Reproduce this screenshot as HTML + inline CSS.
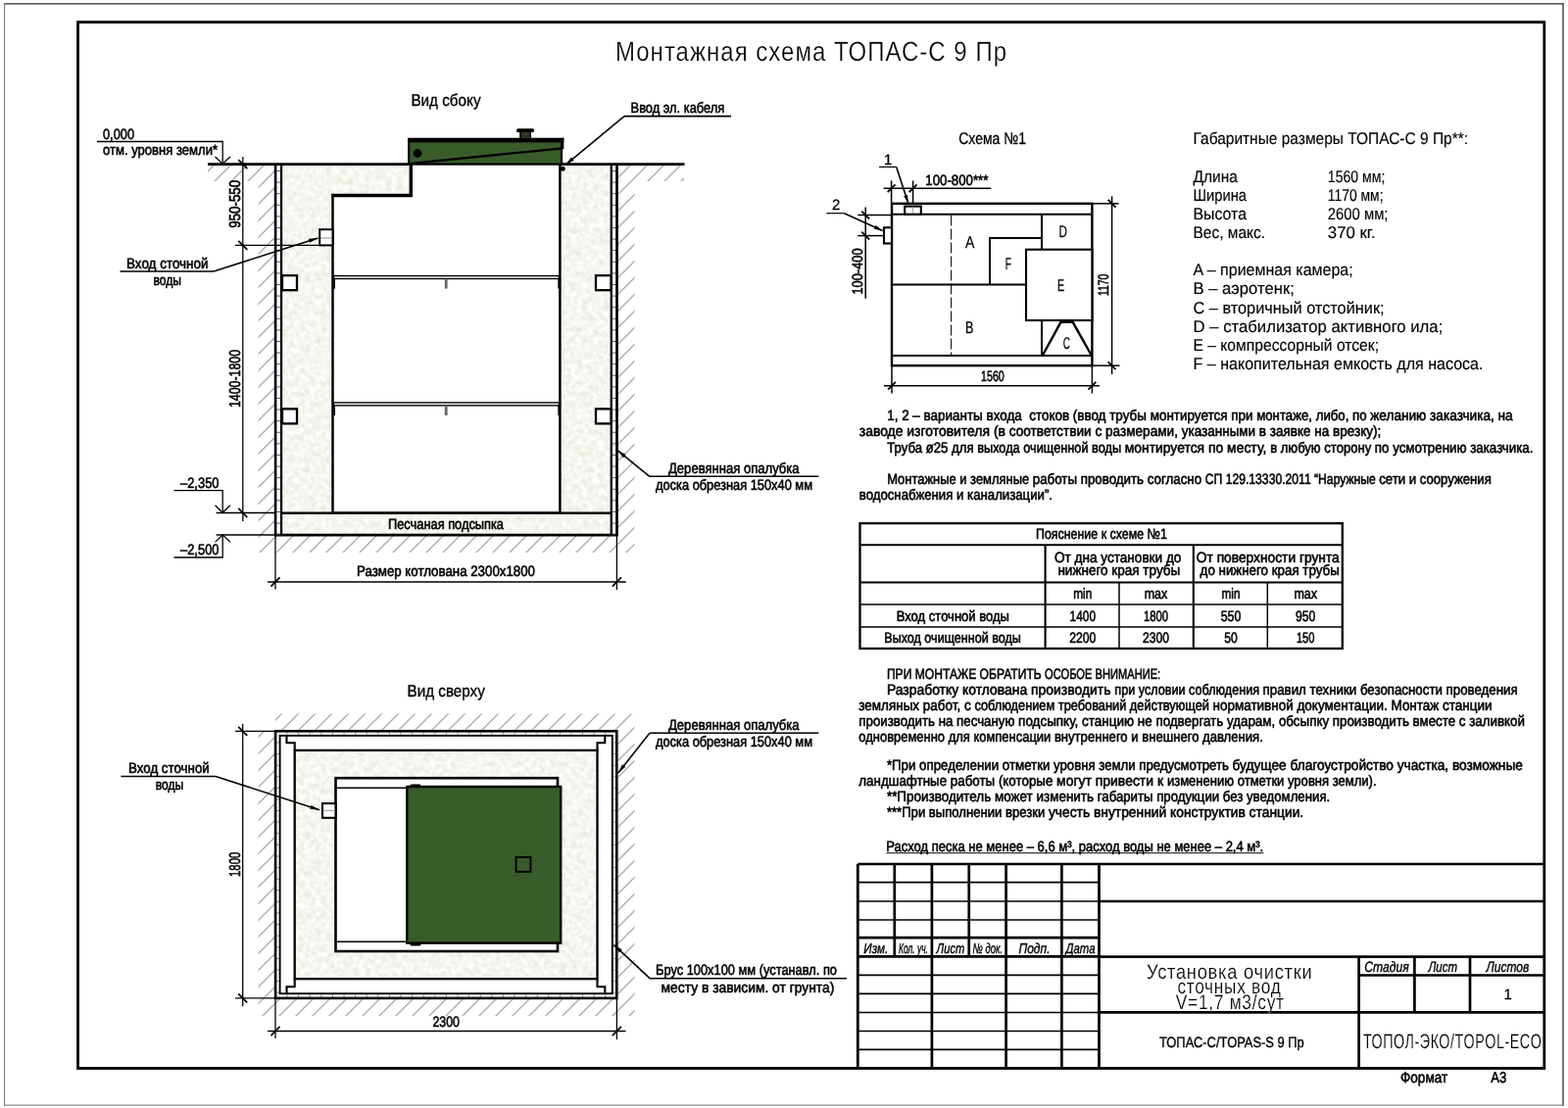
<!DOCTYPE html>
<html lang="ru">
<head>
<meta charset="utf-8">
<title>Монтажная схема ТОПАС-С 9 Пр</title>
<style>
html,body{margin:0;padding:0;background:#fff;}
body{width:1600px;height:1131px;overflow:hidden;}
svg{display:block;}
svg text{font-family:"Liberation Sans", "DejaVu Sans", sans-serif;fill:#000;paint-order:stroke fill;stroke-linejoin:round;}
svg{opacity:0.9999;}
</style>
</head>
<body>
<svg width="1600" height="1131" viewBox="0 0 1600 1131" shape-rendering="auto" text-rendering="geometricPrecision">
<defs><filter id="sand" x="0" y="0" width="100%" height="100%" color-interpolation-filters="sRGB">
<feTurbulence type="fractalNoise" baseFrequency="0.18" numOctaves="2" seed="7" result="n"/>
<feColorMatrix in="n" type="matrix" values="0.15 0 0 0 0.885  0.15 0 0 0 0.888  0.18 0 0 0 0.845  0 0 0 0 1" result="c"/>
<feComposite in="c" in2="SourceGraphic" operator="in"/>
</filter></defs>
<rect x="0.00" y="0.00" width="1600.00" height="1131.00" fill="#fff" stroke="none" />
<line x1="4.00" y1="3.80" x2="1595.60" y2="3.80" stroke="#2a2a2a" stroke-width="1.3" />
<line x1="1595.00" y1="3.20" x2="1595.00" y2="1128.80" stroke="#2a2a2a" stroke-width="1.3" />
<line x1="4.50" y1="3.20" x2="4.50" y2="1128.80" stroke="#777" stroke-width="1" />
<line x1="4.00" y1="1128.20" x2="1595.60" y2="1128.20" stroke="#888" stroke-width="1.2" />
<rect x="79.50" y="22.60" width="1496.30" height="1067.90" fill="none" stroke="#000" stroke-width="2.8" />
<clipPath id="h1">
<rect x="212" y="168.5" width="69" height="16.5"/>
<rect x="263.5" y="168.5" width="17.5" height="395.5"/>
<rect x="263.5" y="547" width="384.0" height="17"/>
<rect x="630.5" y="168" width="17.0" height="396"/>
<rect x="630.5" y="168" width="67.5" height="17"/>
</clipPath>
<g clip-path="url(#h1)" stroke="#aeaeae" stroke-width="1.4">
<line x1="207.0" y1="163.0" x2="-199.0" y2="569.0"/>
<line x1="224.0" y1="163.0" x2="-182.0" y2="569.0"/>
<line x1="241.0" y1="163.0" x2="-165.0" y2="569.0"/>
<line x1="258.0" y1="163.0" x2="-148.0" y2="569.0"/>
<line x1="275.0" y1="163.0" x2="-131.0" y2="569.0"/>
<line x1="292.0" y1="163.0" x2="-114.0" y2="569.0"/>
<line x1="309.0" y1="163.0" x2="-97.0" y2="569.0"/>
<line x1="326.0" y1="163.0" x2="-80.0" y2="569.0"/>
<line x1="343.0" y1="163.0" x2="-63.0" y2="569.0"/>
<line x1="360.0" y1="163.0" x2="-46.0" y2="569.0"/>
<line x1="377.0" y1="163.0" x2="-29.0" y2="569.0"/>
<line x1="394.0" y1="163.0" x2="-12.0" y2="569.0"/>
<line x1="411.0" y1="163.0" x2="5.0" y2="569.0"/>
<line x1="428.0" y1="163.0" x2="22.0" y2="569.0"/>
<line x1="445.0" y1="163.0" x2="39.0" y2="569.0"/>
<line x1="462.0" y1="163.0" x2="56.0" y2="569.0"/>
<line x1="479.0" y1="163.0" x2="73.0" y2="569.0"/>
<line x1="496.0" y1="163.0" x2="90.0" y2="569.0"/>
<line x1="513.0" y1="163.0" x2="107.0" y2="569.0"/>
<line x1="530.0" y1="163.0" x2="124.0" y2="569.0"/>
<line x1="547.0" y1="163.0" x2="141.0" y2="569.0"/>
<line x1="564.0" y1="163.0" x2="158.0" y2="569.0"/>
<line x1="581.0" y1="163.0" x2="175.0" y2="569.0"/>
<line x1="598.0" y1="163.0" x2="192.0" y2="569.0"/>
<line x1="615.0" y1="163.0" x2="209.0" y2="569.0"/>
<line x1="632.0" y1="163.0" x2="226.0" y2="569.0"/>
<line x1="649.0" y1="163.0" x2="243.0" y2="569.0"/>
<line x1="666.0" y1="163.0" x2="260.0" y2="569.0"/>
<line x1="683.0" y1="163.0" x2="277.0" y2="569.0"/>
<line x1="700.0" y1="163.0" x2="294.0" y2="569.0"/>
<line x1="717.0" y1="163.0" x2="311.0" y2="569.0"/>
<line x1="734.0" y1="163.0" x2="328.0" y2="569.0"/>
<line x1="751.0" y1="163.0" x2="345.0" y2="569.0"/>
<line x1="768.0" y1="163.0" x2="362.0" y2="569.0"/>
<line x1="785.0" y1="163.0" x2="379.0" y2="569.0"/>
<line x1="802.0" y1="163.0" x2="396.0" y2="569.0"/>
<line x1="819.0" y1="163.0" x2="413.0" y2="569.0"/>
<line x1="836.0" y1="163.0" x2="430.0" y2="569.0"/>
<line x1="853.0" y1="163.0" x2="447.0" y2="569.0"/>
<line x1="870.0" y1="163.0" x2="464.0" y2="569.0"/>
<line x1="887.0" y1="163.0" x2="481.0" y2="569.0"/>
<line x1="904.0" y1="163.0" x2="498.0" y2="569.0"/>
<line x1="921.0" y1="163.0" x2="515.0" y2="569.0"/>
<line x1="938.0" y1="163.0" x2="532.0" y2="569.0"/>
<line x1="955.0" y1="163.0" x2="549.0" y2="569.0"/>
<line x1="972.0" y1="163.0" x2="566.0" y2="569.0"/>
<line x1="989.0" y1="163.0" x2="583.0" y2="569.0"/>
<line x1="1006.0" y1="163.0" x2="600.0" y2="569.0"/>
<line x1="1023.0" y1="163.0" x2="617.0" y2="569.0"/>
<line x1="1040.0" y1="163.0" x2="634.0" y2="569.0"/>
<line x1="1057.0" y1="163.0" x2="651.0" y2="569.0"/>
<line x1="1074.0" y1="163.0" x2="668.0" y2="569.0"/>
<line x1="1091.0" y1="163.0" x2="685.0" y2="569.0"/>
<line x1="1108.0" y1="163.0" x2="702.0" y2="569.0"/>
</g>
<rect x="287.00" y="168.50" width="337.00" height="377.00" fill="#f2f3e8" stroke="none" filter="url(#sand)"/>
<line x1="212.00" y1="167.60" x2="698.50" y2="167.60" stroke="#000" stroke-width="2.7" />
<path d="M419.30 167.60 L419.30 199.50 L339.50 199.50 L339.50 523.70 L571.40 523.70 L571.40 167.60" fill="#fff" stroke="#000" stroke-width="2.5" stroke-linejoin="miter" />
<path d="M419.30 167.60 L419.30 199.50 L338.30 199.50" fill="none" stroke="#000" stroke-width="3.4" stroke-linejoin="miter" />
<line x1="287.00" y1="523.70" x2="624.00" y2="523.70" stroke="#000" stroke-width="2.6" />
<line x1="280.20" y1="546.10" x2="630.80" y2="546.10" stroke="#000" stroke-width="2.6" />
<line x1="281.10" y1="174.50" x2="287.05" y2="174.50" stroke="#555" stroke-width="0.9" />
<line x1="281.10" y1="186.10" x2="287.05" y2="186.10" stroke="#555" stroke-width="0.9" />
<line x1="281.10" y1="197.70" x2="287.05" y2="197.70" stroke="#555" stroke-width="0.9" />
<line x1="281.10" y1="209.30" x2="287.05" y2="209.30" stroke="#555" stroke-width="0.9" />
<line x1="281.10" y1="220.90" x2="287.05" y2="220.90" stroke="#555" stroke-width="0.9" />
<line x1="281.10" y1="232.50" x2="287.05" y2="232.50" stroke="#555" stroke-width="0.9" />
<line x1="281.10" y1="244.10" x2="287.05" y2="244.10" stroke="#555" stroke-width="0.9" />
<line x1="281.10" y1="255.70" x2="287.05" y2="255.70" stroke="#555" stroke-width="0.9" />
<line x1="281.10" y1="267.30" x2="287.05" y2="267.30" stroke="#555" stroke-width="0.9" />
<line x1="281.10" y1="278.90" x2="287.05" y2="278.90" stroke="#555" stroke-width="0.9" />
<line x1="281.10" y1="290.50" x2="287.05" y2="290.50" stroke="#555" stroke-width="0.9" />
<line x1="281.10" y1="302.10" x2="287.05" y2="302.10" stroke="#555" stroke-width="0.9" />
<line x1="281.10" y1="313.70" x2="287.05" y2="313.70" stroke="#555" stroke-width="0.9" />
<line x1="281.10" y1="325.30" x2="287.05" y2="325.30" stroke="#555" stroke-width="0.9" />
<line x1="281.10" y1="336.90" x2="287.05" y2="336.90" stroke="#555" stroke-width="0.9" />
<line x1="281.10" y1="348.50" x2="287.05" y2="348.50" stroke="#555" stroke-width="0.9" />
<line x1="281.10" y1="360.10" x2="287.05" y2="360.10" stroke="#555" stroke-width="0.9" />
<line x1="281.10" y1="371.70" x2="287.05" y2="371.70" stroke="#555" stroke-width="0.9" />
<line x1="281.10" y1="383.30" x2="287.05" y2="383.30" stroke="#555" stroke-width="0.9" />
<line x1="281.10" y1="394.90" x2="287.05" y2="394.90" stroke="#555" stroke-width="0.9" />
<line x1="281.10" y1="406.50" x2="287.05" y2="406.50" stroke="#555" stroke-width="0.9" />
<line x1="281.10" y1="418.10" x2="287.05" y2="418.10" stroke="#555" stroke-width="0.9" />
<line x1="281.10" y1="429.70" x2="287.05" y2="429.70" stroke="#555" stroke-width="0.9" />
<line x1="281.10" y1="441.30" x2="287.05" y2="441.30" stroke="#555" stroke-width="0.9" />
<line x1="281.10" y1="452.90" x2="287.05" y2="452.90" stroke="#555" stroke-width="0.9" />
<line x1="281.10" y1="464.50" x2="287.05" y2="464.50" stroke="#555" stroke-width="0.9" />
<line x1="281.10" y1="476.10" x2="287.05" y2="476.10" stroke="#555" stroke-width="0.9" />
<line x1="281.10" y1="487.70" x2="287.05" y2="487.70" stroke="#555" stroke-width="0.9" />
<line x1="281.10" y1="499.30" x2="287.05" y2="499.30" stroke="#555" stroke-width="0.9" />
<line x1="281.10" y1="510.90" x2="287.05" y2="510.90" stroke="#555" stroke-width="0.9" />
<line x1="281.10" y1="522.50" x2="287.05" y2="522.50" stroke="#555" stroke-width="0.9" />
<line x1="281.10" y1="534.10" x2="287.05" y2="534.10" stroke="#555" stroke-width="0.9" />
<line x1="281.10" y1="545.70" x2="287.05" y2="545.70" stroke="#555" stroke-width="0.9" />
<line x1="281.10" y1="167.50" x2="281.10" y2="546.00" stroke="#000" stroke-width="2.6" />
<line x1="287.05" y1="167.50" x2="287.05" y2="546.00" stroke="#000" stroke-width="2.3" />
<line x1="623.80" y1="174.50" x2="629.50" y2="174.50" stroke="#555" stroke-width="0.9" />
<line x1="623.80" y1="186.10" x2="629.50" y2="186.10" stroke="#555" stroke-width="0.9" />
<line x1="623.80" y1="197.70" x2="629.50" y2="197.70" stroke="#555" stroke-width="0.9" />
<line x1="623.80" y1="209.30" x2="629.50" y2="209.30" stroke="#555" stroke-width="0.9" />
<line x1="623.80" y1="220.90" x2="629.50" y2="220.90" stroke="#555" stroke-width="0.9" />
<line x1="623.80" y1="232.50" x2="629.50" y2="232.50" stroke="#555" stroke-width="0.9" />
<line x1="623.80" y1="244.10" x2="629.50" y2="244.10" stroke="#555" stroke-width="0.9" />
<line x1="623.80" y1="255.70" x2="629.50" y2="255.70" stroke="#555" stroke-width="0.9" />
<line x1="623.80" y1="267.30" x2="629.50" y2="267.30" stroke="#555" stroke-width="0.9" />
<line x1="623.80" y1="278.90" x2="629.50" y2="278.90" stroke="#555" stroke-width="0.9" />
<line x1="623.80" y1="290.50" x2="629.50" y2="290.50" stroke="#555" stroke-width="0.9" />
<line x1="623.80" y1="302.10" x2="629.50" y2="302.10" stroke="#555" stroke-width="0.9" />
<line x1="623.80" y1="313.70" x2="629.50" y2="313.70" stroke="#555" stroke-width="0.9" />
<line x1="623.80" y1="325.30" x2="629.50" y2="325.30" stroke="#555" stroke-width="0.9" />
<line x1="623.80" y1="336.90" x2="629.50" y2="336.90" stroke="#555" stroke-width="0.9" />
<line x1="623.80" y1="348.50" x2="629.50" y2="348.50" stroke="#555" stroke-width="0.9" />
<line x1="623.80" y1="360.10" x2="629.50" y2="360.10" stroke="#555" stroke-width="0.9" />
<line x1="623.80" y1="371.70" x2="629.50" y2="371.70" stroke="#555" stroke-width="0.9" />
<line x1="623.80" y1="383.30" x2="629.50" y2="383.30" stroke="#555" stroke-width="0.9" />
<line x1="623.80" y1="394.90" x2="629.50" y2="394.90" stroke="#555" stroke-width="0.9" />
<line x1="623.80" y1="406.50" x2="629.50" y2="406.50" stroke="#555" stroke-width="0.9" />
<line x1="623.80" y1="418.10" x2="629.50" y2="418.10" stroke="#555" stroke-width="0.9" />
<line x1="623.80" y1="429.70" x2="629.50" y2="429.70" stroke="#555" stroke-width="0.9" />
<line x1="623.80" y1="441.30" x2="629.50" y2="441.30" stroke="#555" stroke-width="0.9" />
<line x1="623.80" y1="452.90" x2="629.50" y2="452.90" stroke="#555" stroke-width="0.9" />
<line x1="623.80" y1="464.50" x2="629.50" y2="464.50" stroke="#555" stroke-width="0.9" />
<line x1="623.80" y1="476.10" x2="629.50" y2="476.10" stroke="#555" stroke-width="0.9" />
<line x1="623.80" y1="487.70" x2="629.50" y2="487.70" stroke="#555" stroke-width="0.9" />
<line x1="623.80" y1="499.30" x2="629.50" y2="499.30" stroke="#555" stroke-width="0.9" />
<line x1="623.80" y1="510.90" x2="629.50" y2="510.90" stroke="#555" stroke-width="0.9" />
<line x1="623.80" y1="522.50" x2="629.50" y2="522.50" stroke="#555" stroke-width="0.9" />
<line x1="623.80" y1="534.10" x2="629.50" y2="534.10" stroke="#555" stroke-width="0.9" />
<line x1="623.80" y1="545.70" x2="629.50" y2="545.70" stroke="#555" stroke-width="0.9" />
<line x1="623.80" y1="167.50" x2="623.80" y2="546.00" stroke="#000" stroke-width="2.3" />
<line x1="629.50" y1="167.50" x2="629.50" y2="546.00" stroke="#000" stroke-width="2.7" />
<rect x="340.50" y="281.60" width="229.90" height="2.90" fill="#fff" stroke="#000" stroke-width="1.4" />
<rect x="340.30" y="284.60" width="1.70" height="10.00" fill="#000" stroke="none" />
<rect x="569.30" y="284.60" width="1.70" height="10.00" fill="#000" stroke="none" />
<rect x="453.80" y="284.60" width="2.80" height="10.00" fill="#666" stroke="none" />
<rect x="340.50" y="411.00" width="229.90" height="2.90" fill="#fff" stroke="#000" stroke-width="1.4" />
<rect x="340.30" y="414.00" width="1.70" height="10.00" fill="#000" stroke="none" />
<rect x="569.30" y="414.00" width="1.70" height="10.00" fill="#000" stroke="none" />
<rect x="453.80" y="414.00" width="2.80" height="10.00" fill="#666" stroke="none" />
<rect x="288.00" y="281.20" width="15.00" height="15.00" fill="#fff" stroke="#000" stroke-width="2.3" />
<rect x="608.00" y="281.20" width="15.50" height="15.00" fill="#fff" stroke="#000" stroke-width="2.3" />
<rect x="288.00" y="417.40" width="15.00" height="15.00" fill="#fff" stroke="#000" stroke-width="2.3" />
<rect x="608.00" y="417.40" width="15.50" height="15.00" fill="#fff" stroke="#000" stroke-width="2.3" />
<rect x="326.20" y="234.20" width="13.30" height="16.20" fill="#fff" stroke="#000" stroke-width="2" />
<line x1="327.00" y1="243.00" x2="339.00" y2="243.00" stroke="#777" stroke-width="0.8" />
<rect x="417.20" y="142.00" width="155.80" height="25.60" fill="#375c2a" stroke="#000" stroke-width="2.2" />
<rect x="416.20" y="140.80" width="159.10" height="4.60" fill="#000" stroke="none" />
<rect x="572.50" y="140.80" width="2.80" height="11.40" fill="#000" stroke="none" />
<line x1="419.00" y1="166.80" x2="572.00" y2="151.60" stroke="#000" stroke-width="2.3" />
<circle cx="426" cy="156.5" r="4.4" fill="#000"/>
<rect x="530.50" y="134.00" width="11.30" height="7.00" fill="#2a3a26" stroke="none" />
<rect x="527" y="131.3" width="18" height="3.6" rx="1.5" fill="#000"/>
<line x1="531.00" y1="134.00" x2="531.00" y2="141.00" stroke="#000" stroke-width="1.4" />
<line x1="541.30" y1="134.00" x2="541.30" y2="141.00" stroke="#000" stroke-width="1.4" />
<circle cx="574.2" cy="172.3" r="2.5" fill="#000"/>
<line x1="247.80" y1="160.00" x2="247.80" y2="532.00" stroke="#000" stroke-width="1.3" />
<line x1="243.28" y1="163.08" x2="252.32" y2="172.12" stroke="#000" stroke-width="1.8" />
<line x1="243.28" y1="245.78" x2="252.32" y2="254.82" stroke="#000" stroke-width="1.8" />
<line x1="243.28" y1="518.98" x2="252.32" y2="528.02" stroke="#000" stroke-width="1.8" />
<line x1="240.00" y1="250.30" x2="325.50" y2="250.30" stroke="#000" stroke-width="1.3" />
<line x1="220.60" y1="523.50" x2="281.00" y2="523.50" stroke="#000" stroke-width="1.3" />
<line x1="220.60" y1="546.00" x2="281.00" y2="546.00" stroke="#000" stroke-width="1.3" />
<line x1="281.00" y1="546.00" x2="281.00" y2="601.60" stroke="#000" stroke-width="1.3" />
<line x1="629.40" y1="546.00" x2="629.40" y2="602.00" stroke="#000" stroke-width="1.3" />
<line x1="273.00" y1="594.00" x2="638.80" y2="594.00" stroke="#000" stroke-width="1.3" />
<line x1="276.48" y1="598.52" x2="285.52" y2="589.48" stroke="#000" stroke-width="1.8" />
<line x1="624.88" y1="598.52" x2="633.92" y2="589.48" stroke="#000" stroke-width="1.8" />
<text x="245.20" y="232.80" font-size="16" textLength="49.00" lengthAdjust="spacingAndGlyphs" transform="rotate(-90 245.20 232.80)" stroke="#000" stroke-width="0.6">950-550</text>
<text x="245.40" y="416.00" font-size="16" textLength="59.00" lengthAdjust="spacingAndGlyphs" transform="rotate(-90 245.40 416.00)" stroke="#000" stroke-width="0.6">1400-1800</text>
<text x="364.00" y="588.00" font-size="15" textLength="182.00" lengthAdjust="spacingAndGlyphs" stroke="#000" stroke-width="0.6">Размер котлована 2300х1800</text>
<text x="396.00" y="539.80" font-size="15" textLength="118.00" lengthAdjust="spacingAndGlyphs" stroke="#000" stroke-width="0.6">Песчаная подсыпка</text>
<text x="105.00" y="141.50" font-size="15" textLength="32.00" lengthAdjust="spacingAndGlyphs" stroke="#000" stroke-width="0.6">0,000</text>
<text x="105.00" y="158.00" font-size="15" textLength="117.00" lengthAdjust="spacingAndGlyphs" stroke="#000" stroke-width="0.6">отм. уровня земли*</text>
<path d="M99.00 144.50 L227.20 144.50 L227.20 167.00" fill="none" stroke="#000" stroke-width="1.3" stroke-linejoin="miter" />
<path d="M219.50 160.00 L227.20 167.20 L235.00 160.00" fill="none" stroke="#000" stroke-width="1.3" stroke-linejoin="miter" />
<text x="184.00" y="498.10" font-size="15" textLength="39.50" lengthAdjust="spacingAndGlyphs" stroke="#000" stroke-width="0.6">–2,350</text>
<path d="M177.50 500.60 L227.20 500.60 L227.20 523.30" fill="none" stroke="#000" stroke-width="1.3" stroke-linejoin="miter" />
<path d="M219.50 515.80 L227.20 523.30 L235.00 515.80" fill="none" stroke="#000" stroke-width="1.3" stroke-linejoin="miter" />
<text x="184.00" y="566.00" font-size="15" textLength="39.50" lengthAdjust="spacingAndGlyphs" stroke="#000" stroke-width="0.6">–2,500</text>
<path d="M177.50 569.00 L227.20 569.00 L227.20 546.00" fill="none" stroke="#000" stroke-width="1.3" stroke-linejoin="miter" />
<path d="M219.50 553.40 L227.20 546.00 L235.00 553.40" fill="none" stroke="#000" stroke-width="1.3" stroke-linejoin="miter" />
<text x="129.00" y="274.00" font-size="15" textLength="83.50" lengthAdjust="spacingAndGlyphs" stroke="#000" stroke-width="0.6">Вход сточной</text>
<text x="156.50" y="291.20" font-size="15" textLength="28.50" lengthAdjust="spacingAndGlyphs" stroke="#000" stroke-width="0.6">воды</text>
<line x1="122.50" y1="277.00" x2="218.00" y2="277.00" stroke="#000" stroke-width="1.6" />
<line x1="218.00" y1="277.00" x2="324.50" y2="242.90" stroke="#000" stroke-width="1.6" />
<path d="M324.50 242.90 L316.09 247.80 L314.81 243.80 Z" fill="#000" stroke="none" stroke-linejoin="miter" />
<text x="643.60" y="115.00" font-size="15" textLength="95.60" lengthAdjust="spacingAndGlyphs" stroke="#000" stroke-width="0.6">Ввод эл. кабеля</text>
<line x1="637.00" y1="118.60" x2="746.00" y2="118.60" stroke="#000" stroke-width="1.6" />
<line x1="637.00" y1="118.60" x2="577.00" y2="168.30" stroke="#000" stroke-width="1.6" />
<path d="M577.00 168.30 L582.98 160.62 L585.66 163.86 Z" fill="#000" stroke="none" stroke-linejoin="miter" />
<text x="682.00" y="483.00" font-size="15" textLength="133.60" lengthAdjust="spacingAndGlyphs" stroke="#000" stroke-width="0.6">Деревянная опалубка</text>
<text x="669.00" y="500.30" font-size="15" textLength="160.00" lengthAdjust="spacingAndGlyphs" stroke="#000" stroke-width="0.6">доска обрезная 150х40 мм</text>
<line x1="662.80" y1="486.30" x2="835.30" y2="486.30" stroke="#000" stroke-width="1.6" />
<line x1="662.80" y1="486.30" x2="630.00" y2="459.60" stroke="#000" stroke-width="1.6" />
<path d="M630.00 459.60 L638.69 463.97 L636.04 467.23 Z" fill="#000" stroke="none" stroke-linejoin="miter" />
<text x="419.40" y="107.60" font-size="17" textLength="71.20" lengthAdjust="spacingAndGlyphs" stroke="#000" stroke-width="0.35">Вид сбоку</text>
<clipPath id="h2">
<rect x="281" y="728.5" width="366.5" height="17.5"/>
<rect x="263.5" y="746.5" width="17.0" height="290.5"/>
<rect x="263.5" y="1019.5" width="384.0" height="17.5"/>
<rect x="630.5" y="728.5" width="17.0" height="308.5"/>
</clipPath>
<g clip-path="url(#h2)" stroke="#aeaeae" stroke-width="1.4">
<line x1="258.5" y1="723.5" x2="-60.0" y2="1042.0"/>
<line x1="275.5" y1="723.5" x2="-43.0" y2="1042.0"/>
<line x1="292.5" y1="723.5" x2="-26.0" y2="1042.0"/>
<line x1="309.5" y1="723.5" x2="-9.0" y2="1042.0"/>
<line x1="326.5" y1="723.5" x2="8.0" y2="1042.0"/>
<line x1="343.5" y1="723.5" x2="25.0" y2="1042.0"/>
<line x1="360.5" y1="723.5" x2="42.0" y2="1042.0"/>
<line x1="377.5" y1="723.5" x2="59.0" y2="1042.0"/>
<line x1="394.5" y1="723.5" x2="76.0" y2="1042.0"/>
<line x1="411.5" y1="723.5" x2="93.0" y2="1042.0"/>
<line x1="428.5" y1="723.5" x2="110.0" y2="1042.0"/>
<line x1="445.5" y1="723.5" x2="127.0" y2="1042.0"/>
<line x1="462.5" y1="723.5" x2="144.0" y2="1042.0"/>
<line x1="479.5" y1="723.5" x2="161.0" y2="1042.0"/>
<line x1="496.5" y1="723.5" x2="178.0" y2="1042.0"/>
<line x1="513.5" y1="723.5" x2="195.0" y2="1042.0"/>
<line x1="530.5" y1="723.5" x2="212.0" y2="1042.0"/>
<line x1="547.5" y1="723.5" x2="229.0" y2="1042.0"/>
<line x1="564.5" y1="723.5" x2="246.0" y2="1042.0"/>
<line x1="581.5" y1="723.5" x2="263.0" y2="1042.0"/>
<line x1="598.5" y1="723.5" x2="280.0" y2="1042.0"/>
<line x1="615.5" y1="723.5" x2="297.0" y2="1042.0"/>
<line x1="632.5" y1="723.5" x2="314.0" y2="1042.0"/>
<line x1="649.5" y1="723.5" x2="331.0" y2="1042.0"/>
<line x1="666.5" y1="723.5" x2="348.0" y2="1042.0"/>
<line x1="683.5" y1="723.5" x2="365.0" y2="1042.0"/>
<line x1="700.5" y1="723.5" x2="382.0" y2="1042.0"/>
<line x1="717.5" y1="723.5" x2="399.0" y2="1042.0"/>
<line x1="734.5" y1="723.5" x2="416.0" y2="1042.0"/>
<line x1="751.5" y1="723.5" x2="433.0" y2="1042.0"/>
<line x1="768.5" y1="723.5" x2="450.0" y2="1042.0"/>
<line x1="785.5" y1="723.5" x2="467.0" y2="1042.0"/>
<line x1="802.5" y1="723.5" x2="484.0" y2="1042.0"/>
<line x1="819.5" y1="723.5" x2="501.0" y2="1042.0"/>
<line x1="836.5" y1="723.5" x2="518.0" y2="1042.0"/>
<line x1="853.5" y1="723.5" x2="535.0" y2="1042.0"/>
<line x1="870.5" y1="723.5" x2="552.0" y2="1042.0"/>
<line x1="887.5" y1="723.5" x2="569.0" y2="1042.0"/>
<line x1="904.5" y1="723.5" x2="586.0" y2="1042.0"/>
<line x1="921.5" y1="723.5" x2="603.0" y2="1042.0"/>
<line x1="938.5" y1="723.5" x2="620.0" y2="1042.0"/>
<line x1="955.5" y1="723.5" x2="637.0" y2="1042.0"/>
<line x1="972.5" y1="723.5" x2="654.0" y2="1042.0"/>
</g>
<rect x="281.00" y="746.30" width="348.40" height="272.60" fill="#fff" stroke="none" />
<line x1="293.00" y1="746.60" x2="293.00" y2="750.90" stroke="#888" stroke-width="0.9" />
<line x1="293.00" y1="1014.20" x2="293.00" y2="1018.60" stroke="#888" stroke-width="0.9" />
<line x1="304.60" y1="746.60" x2="304.60" y2="750.90" stroke="#888" stroke-width="0.9" />
<line x1="304.60" y1="1014.20" x2="304.60" y2="1018.60" stroke="#888" stroke-width="0.9" />
<line x1="316.20" y1="746.60" x2="316.20" y2="750.90" stroke="#888" stroke-width="0.9" />
<line x1="316.20" y1="1014.20" x2="316.20" y2="1018.60" stroke="#888" stroke-width="0.9" />
<line x1="327.80" y1="746.60" x2="327.80" y2="750.90" stroke="#888" stroke-width="0.9" />
<line x1="327.80" y1="1014.20" x2="327.80" y2="1018.60" stroke="#888" stroke-width="0.9" />
<line x1="339.40" y1="746.60" x2="339.40" y2="750.90" stroke="#888" stroke-width="0.9" />
<line x1="339.40" y1="1014.20" x2="339.40" y2="1018.60" stroke="#888" stroke-width="0.9" />
<line x1="351.00" y1="746.60" x2="351.00" y2="750.90" stroke="#888" stroke-width="0.9" />
<line x1="351.00" y1="1014.20" x2="351.00" y2="1018.60" stroke="#888" stroke-width="0.9" />
<line x1="362.60" y1="746.60" x2="362.60" y2="750.90" stroke="#888" stroke-width="0.9" />
<line x1="362.60" y1="1014.20" x2="362.60" y2="1018.60" stroke="#888" stroke-width="0.9" />
<line x1="374.20" y1="746.60" x2="374.20" y2="750.90" stroke="#888" stroke-width="0.9" />
<line x1="374.20" y1="1014.20" x2="374.20" y2="1018.60" stroke="#888" stroke-width="0.9" />
<line x1="385.80" y1="746.60" x2="385.80" y2="750.90" stroke="#888" stroke-width="0.9" />
<line x1="385.80" y1="1014.20" x2="385.80" y2="1018.60" stroke="#888" stroke-width="0.9" />
<line x1="397.40" y1="746.60" x2="397.40" y2="750.90" stroke="#888" stroke-width="0.9" />
<line x1="397.40" y1="1014.20" x2="397.40" y2="1018.60" stroke="#888" stroke-width="0.9" />
<line x1="409.00" y1="746.60" x2="409.00" y2="750.90" stroke="#888" stroke-width="0.9" />
<line x1="409.00" y1="1014.20" x2="409.00" y2="1018.60" stroke="#888" stroke-width="0.9" />
<line x1="420.60" y1="746.60" x2="420.60" y2="750.90" stroke="#888" stroke-width="0.9" />
<line x1="420.60" y1="1014.20" x2="420.60" y2="1018.60" stroke="#888" stroke-width="0.9" />
<line x1="432.20" y1="746.60" x2="432.20" y2="750.90" stroke="#888" stroke-width="0.9" />
<line x1="432.20" y1="1014.20" x2="432.20" y2="1018.60" stroke="#888" stroke-width="0.9" />
<line x1="443.80" y1="746.60" x2="443.80" y2="750.90" stroke="#888" stroke-width="0.9" />
<line x1="443.80" y1="1014.20" x2="443.80" y2="1018.60" stroke="#888" stroke-width="0.9" />
<line x1="455.40" y1="746.60" x2="455.40" y2="750.90" stroke="#888" stroke-width="0.9" />
<line x1="455.40" y1="1014.20" x2="455.40" y2="1018.60" stroke="#888" stroke-width="0.9" />
<line x1="467.00" y1="746.60" x2="467.00" y2="750.90" stroke="#888" stroke-width="0.9" />
<line x1="467.00" y1="1014.20" x2="467.00" y2="1018.60" stroke="#888" stroke-width="0.9" />
<line x1="478.60" y1="746.60" x2="478.60" y2="750.90" stroke="#888" stroke-width="0.9" />
<line x1="478.60" y1="1014.20" x2="478.60" y2="1018.60" stroke="#888" stroke-width="0.9" />
<line x1="490.20" y1="746.60" x2="490.20" y2="750.90" stroke="#888" stroke-width="0.9" />
<line x1="490.20" y1="1014.20" x2="490.20" y2="1018.60" stroke="#888" stroke-width="0.9" />
<line x1="501.80" y1="746.60" x2="501.80" y2="750.90" stroke="#888" stroke-width="0.9" />
<line x1="501.80" y1="1014.20" x2="501.80" y2="1018.60" stroke="#888" stroke-width="0.9" />
<line x1="513.40" y1="746.60" x2="513.40" y2="750.90" stroke="#888" stroke-width="0.9" />
<line x1="513.40" y1="1014.20" x2="513.40" y2="1018.60" stroke="#888" stroke-width="0.9" />
<line x1="525.00" y1="746.60" x2="525.00" y2="750.90" stroke="#888" stroke-width="0.9" />
<line x1="525.00" y1="1014.20" x2="525.00" y2="1018.60" stroke="#888" stroke-width="0.9" />
<line x1="536.60" y1="746.60" x2="536.60" y2="750.90" stroke="#888" stroke-width="0.9" />
<line x1="536.60" y1="1014.20" x2="536.60" y2="1018.60" stroke="#888" stroke-width="0.9" />
<line x1="548.20" y1="746.60" x2="548.20" y2="750.90" stroke="#888" stroke-width="0.9" />
<line x1="548.20" y1="1014.20" x2="548.20" y2="1018.60" stroke="#888" stroke-width="0.9" />
<line x1="559.80" y1="746.60" x2="559.80" y2="750.90" stroke="#888" stroke-width="0.9" />
<line x1="559.80" y1="1014.20" x2="559.80" y2="1018.60" stroke="#888" stroke-width="0.9" />
<line x1="571.40" y1="746.60" x2="571.40" y2="750.90" stroke="#888" stroke-width="0.9" />
<line x1="571.40" y1="1014.20" x2="571.40" y2="1018.60" stroke="#888" stroke-width="0.9" />
<line x1="583.00" y1="746.60" x2="583.00" y2="750.90" stroke="#888" stroke-width="0.9" />
<line x1="583.00" y1="1014.20" x2="583.00" y2="1018.60" stroke="#888" stroke-width="0.9" />
<line x1="594.60" y1="746.60" x2="594.60" y2="750.90" stroke="#888" stroke-width="0.9" />
<line x1="594.60" y1="1014.20" x2="594.60" y2="1018.60" stroke="#888" stroke-width="0.9" />
<line x1="606.20" y1="746.60" x2="606.20" y2="750.90" stroke="#888" stroke-width="0.9" />
<line x1="606.20" y1="1014.20" x2="606.20" y2="1018.60" stroke="#888" stroke-width="0.9" />
<line x1="617.80" y1="746.60" x2="617.80" y2="750.90" stroke="#888" stroke-width="0.9" />
<line x1="617.80" y1="1014.20" x2="617.80" y2="1018.60" stroke="#888" stroke-width="0.9" />
<line x1="281.00" y1="758.00" x2="285.60" y2="758.00" stroke="#888" stroke-width="0.9" />
<line x1="624.80" y1="758.00" x2="629.40" y2="758.00" stroke="#888" stroke-width="0.9" />
<line x1="281.00" y1="769.60" x2="285.60" y2="769.60" stroke="#888" stroke-width="0.9" />
<line x1="624.80" y1="769.60" x2="629.40" y2="769.60" stroke="#888" stroke-width="0.9" />
<line x1="281.00" y1="781.20" x2="285.60" y2="781.20" stroke="#888" stroke-width="0.9" />
<line x1="624.80" y1="781.20" x2="629.40" y2="781.20" stroke="#888" stroke-width="0.9" />
<line x1="281.00" y1="792.80" x2="285.60" y2="792.80" stroke="#888" stroke-width="0.9" />
<line x1="624.80" y1="792.80" x2="629.40" y2="792.80" stroke="#888" stroke-width="0.9" />
<line x1="281.00" y1="804.40" x2="285.60" y2="804.40" stroke="#888" stroke-width="0.9" />
<line x1="624.80" y1="804.40" x2="629.40" y2="804.40" stroke="#888" stroke-width="0.9" />
<line x1="281.00" y1="816.00" x2="285.60" y2="816.00" stroke="#888" stroke-width="0.9" />
<line x1="624.80" y1="816.00" x2="629.40" y2="816.00" stroke="#888" stroke-width="0.9" />
<line x1="281.00" y1="827.60" x2="285.60" y2="827.60" stroke="#888" stroke-width="0.9" />
<line x1="624.80" y1="827.60" x2="629.40" y2="827.60" stroke="#888" stroke-width="0.9" />
<line x1="281.00" y1="839.20" x2="285.60" y2="839.20" stroke="#888" stroke-width="0.9" />
<line x1="624.80" y1="839.20" x2="629.40" y2="839.20" stroke="#888" stroke-width="0.9" />
<line x1="281.00" y1="850.80" x2="285.60" y2="850.80" stroke="#888" stroke-width="0.9" />
<line x1="624.80" y1="850.80" x2="629.40" y2="850.80" stroke="#888" stroke-width="0.9" />
<line x1="281.00" y1="862.40" x2="285.60" y2="862.40" stroke="#888" stroke-width="0.9" />
<line x1="624.80" y1="862.40" x2="629.40" y2="862.40" stroke="#888" stroke-width="0.9" />
<line x1="281.00" y1="874.00" x2="285.60" y2="874.00" stroke="#888" stroke-width="0.9" />
<line x1="624.80" y1="874.00" x2="629.40" y2="874.00" stroke="#888" stroke-width="0.9" />
<line x1="281.00" y1="885.60" x2="285.60" y2="885.60" stroke="#888" stroke-width="0.9" />
<line x1="624.80" y1="885.60" x2="629.40" y2="885.60" stroke="#888" stroke-width="0.9" />
<line x1="281.00" y1="897.20" x2="285.60" y2="897.20" stroke="#888" stroke-width="0.9" />
<line x1="624.80" y1="897.20" x2="629.40" y2="897.20" stroke="#888" stroke-width="0.9" />
<line x1="281.00" y1="908.80" x2="285.60" y2="908.80" stroke="#888" stroke-width="0.9" />
<line x1="624.80" y1="908.80" x2="629.40" y2="908.80" stroke="#888" stroke-width="0.9" />
<line x1="281.00" y1="920.40" x2="285.60" y2="920.40" stroke="#888" stroke-width="0.9" />
<line x1="624.80" y1="920.40" x2="629.40" y2="920.40" stroke="#888" stroke-width="0.9" />
<line x1="281.00" y1="932.00" x2="285.60" y2="932.00" stroke="#888" stroke-width="0.9" />
<line x1="624.80" y1="932.00" x2="629.40" y2="932.00" stroke="#888" stroke-width="0.9" />
<line x1="281.00" y1="943.60" x2="285.60" y2="943.60" stroke="#888" stroke-width="0.9" />
<line x1="624.80" y1="943.60" x2="629.40" y2="943.60" stroke="#888" stroke-width="0.9" />
<line x1="281.00" y1="955.20" x2="285.60" y2="955.20" stroke="#888" stroke-width="0.9" />
<line x1="624.80" y1="955.20" x2="629.40" y2="955.20" stroke="#888" stroke-width="0.9" />
<line x1="281.00" y1="966.80" x2="285.60" y2="966.80" stroke="#888" stroke-width="0.9" />
<line x1="624.80" y1="966.80" x2="629.40" y2="966.80" stroke="#888" stroke-width="0.9" />
<line x1="281.00" y1="978.40" x2="285.60" y2="978.40" stroke="#888" stroke-width="0.9" />
<line x1="624.80" y1="978.40" x2="629.40" y2="978.40" stroke="#888" stroke-width="0.9" />
<line x1="281.00" y1="990.00" x2="285.60" y2="990.00" stroke="#888" stroke-width="0.9" />
<line x1="624.80" y1="990.00" x2="629.40" y2="990.00" stroke="#888" stroke-width="0.9" />
<line x1="281.00" y1="1001.60" x2="285.60" y2="1001.60" stroke="#888" stroke-width="0.9" />
<line x1="624.80" y1="1001.60" x2="629.40" y2="1001.60" stroke="#888" stroke-width="0.9" />
<line x1="281.00" y1="1013.20" x2="285.60" y2="1013.20" stroke="#888" stroke-width="0.9" />
<line x1="624.80" y1="1013.20" x2="629.40" y2="1013.20" stroke="#888" stroke-width="0.9" />
<rect x="281.10" y="746.30" width="348.20" height="272.60" fill="none" stroke="#000" stroke-width="2.6" />
<rect x="285.60" y="750.90" width="339.20" height="263.30" fill="none" stroke="#000" stroke-width="1.9" />
<rect x="300.70" y="765.90" width="308.80" height="233.30" fill="#f2f3e8" stroke="none" filter="url(#sand)"/>
<rect x="300.70" y="765.90" width="308.80" height="233.30" fill="none" stroke="#000" stroke-width="2.3" />
<path d="M300.70 765.90 L300.70 758.20 L292.50 758.20 L292.50 750.90" fill="none" stroke="#000" stroke-width="2.1" stroke-linejoin="miter" />
<path d="M609.50 765.90 L609.50 758.20 L617.30 758.20 L617.30 750.90" fill="none" stroke="#000" stroke-width="2.1" stroke-linejoin="miter" />
<path d="M300.70 999.20 L300.70 1007.20 L292.50 1007.20 L292.50 1014.20" fill="none" stroke="#000" stroke-width="2.1" stroke-linejoin="miter" />
<path d="M609.50 999.20 L609.50 1007.20 L617.30 1007.20 L617.30 1014.20" fill="none" stroke="#000" stroke-width="2.1" stroke-linejoin="miter" />
<rect x="342.50" y="794.20" width="226.50" height="176.80" fill="#fff" stroke="#000" stroke-width="2.6" />
<line x1="342.50" y1="804.20" x2="569.00" y2="804.20" stroke="#000" stroke-width="1.4" />
<line x1="342.50" y1="961.30" x2="569.00" y2="961.30" stroke="#000" stroke-width="1.4" />
<rect x="418.5" y="800.4" width="11" height="4" rx="1.5" fill="#000"/>
<rect x="418.5" y="961" width="11" height="4.4" rx="1.5" fill="#000"/>
<rect x="415.30" y="803.00" width="156.90" height="159.60" fill="#375c2a" stroke="#000" stroke-width="2.4" />
<rect x="526.60" y="875.00" width="14.80" height="14.80" fill="none" stroke="#000" stroke-width="1.9" />
<rect x="329.00" y="820.10" width="13.50" height="14.70" fill="#fff" stroke="#000" stroke-width="2.1" />
<line x1="329.50" y1="827.30" x2="342.00" y2="827.30" stroke="#777" stroke-width="0.8" />
<line x1="247.70" y1="739.00" x2="247.70" y2="1027.00" stroke="#000" stroke-width="1.3" />
<line x1="243.18" y1="741.88" x2="252.22" y2="750.92" stroke="#000" stroke-width="1.8" />
<line x1="243.18" y1="1014.38" x2="252.22" y2="1023.42" stroke="#000" stroke-width="1.8" />
<line x1="240.00" y1="746.40" x2="281.00" y2="746.40" stroke="#000" stroke-width="1.3" />
<line x1="240.00" y1="1018.90" x2="281.00" y2="1018.90" stroke="#000" stroke-width="1.3" />
<line x1="281.00" y1="1019.00" x2="281.00" y2="1060.00" stroke="#000" stroke-width="1.3" />
<line x1="629.40" y1="1019.00" x2="629.40" y2="1061.00" stroke="#000" stroke-width="1.3" />
<line x1="273.00" y1="1052.50" x2="638.50" y2="1052.50" stroke="#000" stroke-width="1.3" />
<line x1="276.48" y1="1057.02" x2="285.52" y2="1047.98" stroke="#000" stroke-width="1.8" />
<line x1="624.88" y1="1057.02" x2="633.92" y2="1047.98" stroke="#000" stroke-width="1.8" />
<text x="245.40" y="895.00" font-size="16" textLength="25.30" lengthAdjust="spacingAndGlyphs" transform="rotate(-90 245.40 895.00)" stroke="#000" stroke-width="0.6">1800</text>
<text x="441.50" y="1047.80" font-size="15" textLength="27.50" lengthAdjust="spacingAndGlyphs" stroke="#000" stroke-width="0.6">2300</text>
<text x="131.00" y="788.80" font-size="15" textLength="82.80" lengthAdjust="spacingAndGlyphs" stroke="#000" stroke-width="0.6">Вход сточной</text>
<text x="158.70" y="805.50" font-size="15" textLength="28.50" lengthAdjust="spacingAndGlyphs" stroke="#000" stroke-width="0.6">воды</text>
<line x1="123.40" y1="792.50" x2="220.00" y2="792.50" stroke="#000" stroke-width="1.6" />
<line x1="220.00" y1="792.50" x2="326.00" y2="826.80" stroke="#000" stroke-width="1.6" />
<path d="M326.00 826.80 L316.31 825.87 L317.61 821.88 Z" fill="#000" stroke="none" stroke-linejoin="miter" />
<text x="682.00" y="745.00" font-size="15" textLength="133.60" lengthAdjust="spacingAndGlyphs" stroke="#000" stroke-width="0.6">Деревянная опалубка</text>
<text x="669.00" y="761.50" font-size="15" textLength="160.00" lengthAdjust="spacingAndGlyphs" stroke="#000" stroke-width="0.6">доска обрезная 150х40 мм</text>
<line x1="663.00" y1="748.20" x2="835.30" y2="748.20" stroke="#000" stroke-width="1.6" />
<line x1="663.00" y1="748.20" x2="630.80" y2="789.00" stroke="#000" stroke-width="1.6" />
<path d="M630.80 789.00 L635.04 780.24 L638.33 782.84 Z" fill="#000" stroke="none" stroke-linejoin="miter" />
<text x="669.00" y="995.30" font-size="15" textLength="185.00" lengthAdjust="spacingAndGlyphs" stroke="#000" stroke-width="0.6">Брус 100х100 мм (устанавл. по</text>
<text x="674.60" y="1012.60" font-size="15" textLength="176.70" lengthAdjust="spacingAndGlyphs" stroke="#000" stroke-width="0.6">месту в зависим. от грунта)</text>
<line x1="663.00" y1="998.70" x2="864.00" y2="998.70" stroke="#000" stroke-width="1.6" />
<line x1="663.00" y1="998.70" x2="626.40" y2="964.40" stroke="#000" stroke-width="1.6" />
<path d="M626.40 964.40 L634.77 969.36 L631.90 972.43 Z" fill="#000" stroke="none" stroke-linejoin="miter" />
<text x="415.60" y="711.00" font-size="17" textLength="79.20" lengthAdjust="spacingAndGlyphs" stroke="#000" stroke-width="0.35">Вид сверху</text>
<text transform="translate(628.00 62.30) scale(0.856 1)" x="0" y="0" font-size="28" textLength="466.12" lengthAdjust="spacing" stroke="#fff" stroke-width="0.25" style="paint-order:fill stroke">Монтажная схема ТОПАС-С 9 Пр</text>
<text x="978.20" y="147.00" font-size="17" textLength="68.80" lengthAdjust="spacingAndGlyphs" stroke="#000" stroke-width="0.3">Схема №1</text>
<rect x="910.00" y="207.80" width="204.40" height="165.40" fill="#fff" stroke="#000" stroke-width="2.4" />
<line x1="910.00" y1="218.70" x2="1114.40" y2="218.70" stroke="#000" stroke-width="2" />
<line x1="910.00" y1="363.00" x2="1114.40" y2="363.00" stroke="#000" stroke-width="2" />
<line x1="910.00" y1="290.50" x2="1047.00" y2="290.50" stroke="#000" stroke-width="2" />
<line x1="970.60" y1="219.50" x2="970.60" y2="362.00" stroke="#000" stroke-width="1" stroke-dasharray="11 3"/>
<path d="M1010.00 290.50 L1010.00 243.00 L1063.00 243.00" fill="none" stroke="#000" stroke-width="2" stroke-linejoin="miter" />
<line x1="1063.00" y1="218.70" x2="1063.00" y2="254.70" stroke="#000" stroke-width="2" />
<rect x="1047.00" y="254.70" width="67.40" height="72.30" fill="#fff" stroke="#000" stroke-width="2.1" />
<line x1="1063.00" y1="327.00" x2="1063.00" y2="363.00" stroke="#000" stroke-width="2" />
<path d="M1064.00 362.50 L1082.50 328.80 L1094.70 328.80 L1113.60 362.50" fill="none" stroke="#000" stroke-width="2.4" stroke-linejoin="miter" />
<rect x="923.20" y="210.60" width="16.60" height="8.10" fill="#fff" stroke="#000" stroke-width="2.1" />
<line x1="931.30" y1="211.00" x2="931.30" y2="218.00" stroke="#888" stroke-width="0.8" />
<rect x="902.00" y="232.30" width="8.00" height="16.20" fill="#fff" stroke="#000" stroke-width="2.1" />
<text x="985.00" y="252.80" font-size="17" textLength="9.40" lengthAdjust="spacingAndGlyphs" stroke="#000" stroke-width="0.25">A</text>
<text x="985.00" y="340.00" font-size="17" textLength="8.40" lengthAdjust="spacingAndGlyphs" stroke="#000" stroke-width="0.25">B</text>
<text x="1080.60" y="241.60" font-size="17" textLength="8.40" lengthAdjust="spacingAndGlyphs" stroke="#000" stroke-width="0.25">D</text>
<text x="1025.80" y="275.30" font-size="17" textLength="6.20" lengthAdjust="spacingAndGlyphs" stroke="#000" stroke-width="0.25">F</text>
<text x="1079.00" y="297.30" font-size="17" textLength="7.20" lengthAdjust="spacingAndGlyphs" stroke="#000" stroke-width="0.25">E</text>
<text x="1084.80" y="356.00" font-size="17" textLength="7.20" lengthAdjust="spacingAndGlyphs" stroke="#000" stroke-width="0.25">C</text>
<line x1="909.60" y1="184.40" x2="909.60" y2="207.80" stroke="#000" stroke-width="1.5" />
<line x1="931.60" y1="184.40" x2="931.60" y2="209.00" stroke="#000" stroke-width="1.5" />
<line x1="901.60" y1="192.30" x2="1011.30" y2="192.30" stroke="#000" stroke-width="1.5" />
<line x1="905.71" y1="196.19" x2="913.49" y2="188.41" stroke="#000" stroke-width="1.8" />
<line x1="927.71" y1="196.19" x2="935.49" y2="188.41" stroke="#000" stroke-width="1.8" />
<text x="944.30" y="188.70" font-size="15" textLength="64.10" lengthAdjust="spacingAndGlyphs" stroke="#000" stroke-width="0.6">100-800***</text>
<text x="906.20" y="168.40" font-size="15" text-anchor="middle" stroke="#000" stroke-width="0.3">1</text>
<line x1="897.00" y1="170.40" x2="914.70" y2="170.40" stroke="#000" stroke-width="1.2" />
<line x1="914.70" y1="170.40" x2="926.80" y2="207.60" stroke="#000" stroke-width="1.6" />
<path d="M926.80 207.60 L922.27 200.14 L926.07 198.90 Z" fill="#000" stroke="none" stroke-linejoin="miter" />
<text x="853.10" y="214.00" font-size="15" text-anchor="middle" stroke="#000" stroke-width="0.3">2</text>
<line x1="843.30" y1="217.70" x2="861.50" y2="217.70" stroke="#000" stroke-width="1.2" />
<line x1="861.50" y1="217.70" x2="900.60" y2="235.40" stroke="#000" stroke-width="1.6" />
<path d="M900.60 235.40 L892.03 233.72 L893.68 230.07 Z" fill="#000" stroke="none" stroke-linejoin="miter" />
<line x1="883.20" y1="211.60" x2="883.20" y2="304.80" stroke="#000" stroke-width="1.5" />
<line x1="875.30" y1="219.60" x2="910.00" y2="219.60" stroke="#000" stroke-width="1.5" />
<line x1="875.30" y1="240.60" x2="901.40" y2="240.60" stroke="#000" stroke-width="1.5" />
<line x1="879.31" y1="215.71" x2="887.09" y2="223.49" stroke="#000" stroke-width="1.8" />
<line x1="879.31" y1="236.71" x2="887.09" y2="244.49" stroke="#000" stroke-width="1.8" />
<text x="880.00" y="300.60" font-size="15" textLength="47.20" lengthAdjust="spacingAndGlyphs" transform="rotate(-90 880.00 300.60)" stroke="#000" stroke-width="0.6">100-400</text>
<line x1="1134.60" y1="200.30" x2="1134.60" y2="382.00" stroke="#000" stroke-width="1.5" />
<line x1="1114.40" y1="207.80" x2="1141.50" y2="207.80" stroke="#000" stroke-width="1.5" />
<line x1="1114.40" y1="373.20" x2="1142.50" y2="373.20" stroke="#000" stroke-width="1.5" />
<line x1="1130.71" y1="203.91" x2="1138.49" y2="211.69" stroke="#000" stroke-width="1.8" />
<line x1="1130.71" y1="369.31" x2="1138.49" y2="377.09" stroke="#000" stroke-width="1.8" />
<text x="1131.20" y="302.00" font-size="15" textLength="22.40" lengthAdjust="spacingAndGlyphs" transform="rotate(-90 1131.20 302.00)" stroke="#000" stroke-width="0.6">1170</text>
<line x1="910.00" y1="373.20" x2="910.00" y2="401.50" stroke="#000" stroke-width="1.5" />
<line x1="1114.40" y1="373.20" x2="1114.40" y2="401.50" stroke="#000" stroke-width="1.5" />
<line x1="902.00" y1="393.80" x2="1122.00" y2="393.80" stroke="#000" stroke-width="1.5" />
<line x1="906.11" y1="397.69" x2="913.89" y2="389.91" stroke="#000" stroke-width="1.8" />
<line x1="1110.51" y1="397.69" x2="1118.29" y2="389.91" stroke="#000" stroke-width="1.8" />
<text x="1001.00" y="389.30" font-size="15" textLength="23.80" lengthAdjust="spacingAndGlyphs" stroke="#000" stroke-width="0.6">1560</text>
<text x="1217.50" y="147.00" font-size="17" textLength="280.50" lengthAdjust="spacingAndGlyphs" stroke="#000" stroke-width="0.15">Габаритные размеры ТОПАС-С 9 Пр**:</text>
<text x="1217.50" y="185.70" font-size="17" textLength="45.50" lengthAdjust="spacingAndGlyphs" stroke="#000" stroke-width="0.15">Длина</text>
<text x="1354.80" y="185.70" font-size="17" textLength="58.50" lengthAdjust="spacingAndGlyphs" stroke="#000" stroke-width="0.15">1560 мм;</text>
<text x="1217.50" y="204.50" font-size="17" textLength="54.50" lengthAdjust="spacingAndGlyphs" stroke="#000" stroke-width="0.15">Ширина</text>
<text x="1354.80" y="204.50" font-size="17" textLength="56.70" lengthAdjust="spacingAndGlyphs" stroke="#000" stroke-width="0.15">1170 мм;</text>
<text x="1217.50" y="224.00" font-size="17" textLength="54.50" lengthAdjust="spacingAndGlyphs" stroke="#000" stroke-width="0.15">Высота</text>
<text x="1354.80" y="224.00" font-size="17" textLength="61.70" lengthAdjust="spacingAndGlyphs" stroke="#000" stroke-width="0.15">2600 мм;</text>
<text x="1217.50" y="243.30" font-size="17" textLength="73.50" lengthAdjust="spacingAndGlyphs" stroke="#000" stroke-width="0.15">Вес, макс.</text>
<text x="1354.80" y="243.30" font-size="17" textLength="48.80" lengthAdjust="spacingAndGlyphs" stroke="#000" stroke-width="0.15">370 кг.</text>
<text x="1217.50" y="281.00" font-size="17" textLength="163.20" lengthAdjust="spacingAndGlyphs" stroke="#000" stroke-width="0.15">A – приемная камера;</text>
<text x="1217.50" y="300.20" font-size="17" textLength="103.30" lengthAdjust="spacingAndGlyphs" stroke="#000" stroke-width="0.15">B – аэротенк;</text>
<text x="1217.50" y="319.60" font-size="17" textLength="195.10" lengthAdjust="spacingAndGlyphs" stroke="#000" stroke-width="0.15">C – вторичный отстойник;</text>
<text x="1217.50" y="338.70" font-size="17" textLength="254.80" lengthAdjust="spacingAndGlyphs" stroke="#000" stroke-width="0.15">D – стабилизатор активного ила;</text>
<text x="1217.50" y="357.80" font-size="17" textLength="189.50" lengthAdjust="spacingAndGlyphs" stroke="#000" stroke-width="0.15">E – компрессорный отсек;</text>
<text x="1217.50" y="377.00" font-size="17" textLength="296.00" lengthAdjust="spacingAndGlyphs" stroke="#000" stroke-width="0.15">F – накопительная емкость для насоса.</text>
<text x="905.20" y="428.80" font-size="15" textLength="227.00" lengthAdjust="spacingAndGlyphs" stroke="#000" stroke-width="0.6">1, 2 – варианты входа  стоков (ввод </text>
<text x="1132.20" y="428.80" font-size="15" textLength="150.00" lengthAdjust="spacingAndGlyphs" stroke="#000" stroke-width="0.6">трубы монтируется при </text>
<text x="1282.20" y="428.80" font-size="15" textLength="116.00" lengthAdjust="spacingAndGlyphs" stroke="#000" stroke-width="0.6">монтаже, либо, по </text>
<text x="1398.20" y="428.80" font-size="15" textLength="145.50" lengthAdjust="spacingAndGlyphs" stroke="#000" stroke-width="0.6">желанию заказчика, на</text>
<text x="876.80" y="445.30" font-size="15" textLength="153.00" lengthAdjust="spacingAndGlyphs" stroke="#000" stroke-width="0.6">заводе изготовителя (в </text>
<text x="1029.80" y="445.30" font-size="15" textLength="176.00" lengthAdjust="spacingAndGlyphs" stroke="#000" stroke-width="0.6">соответствии с размерами, </text>
<text x="1205.80" y="445.30" font-size="15" textLength="135.40" lengthAdjust="spacingAndGlyphs" stroke="#000" stroke-width="0.6">указанными в заявке </text>
<text x="1341.20" y="445.30" font-size="15" textLength="68.10" lengthAdjust="spacingAndGlyphs" stroke="#000" stroke-width="0.6">на врезку);</text>
<text x="905.20" y="462.00" font-size="15" textLength="92.00" lengthAdjust="spacingAndGlyphs" stroke="#000" stroke-width="0.6">Труба ø25 для </text>
<text x="997.20" y="462.00" font-size="15" textLength="150.50" lengthAdjust="spacingAndGlyphs" stroke="#000" stroke-width="0.6">выхода очищенной воды </text>
<text x="1147.70" y="462.00" font-size="15" textLength="148.50" lengthAdjust="spacingAndGlyphs" stroke="#000" stroke-width="0.6">монтируется по месту, </text>
<text x="1296.20" y="462.00" font-size="15" textLength="106.60" lengthAdjust="spacingAndGlyphs" stroke="#000" stroke-width="0.6">в любую сторону </text>
<text x="1402.80" y="462.00" font-size="15" textLength="161.70" lengthAdjust="spacingAndGlyphs" stroke="#000" stroke-width="0.6">по усмотрению заказчика.</text>
<text x="905.20" y="494.20" font-size="15" textLength="148.60" lengthAdjust="spacingAndGlyphs" stroke="#000" stroke-width="0.6">Монтажные и земляные </text>
<text x="1053.80" y="494.20" font-size="15" textLength="176.00" lengthAdjust="spacingAndGlyphs" stroke="#000" stroke-width="0.6">работы проводить согласно </text>
<text x="1229.80" y="494.20" font-size="15" textLength="177.40" lengthAdjust="spacingAndGlyphs" stroke="#000" stroke-width="0.6">СП 129.13330.2011 “Наружные </text>
<text x="1407.20" y="494.20" font-size="15" textLength="114.60" lengthAdjust="spacingAndGlyphs" stroke="#000" stroke-width="0.6">сети и сооружения</text>
<text x="876.80" y="510.20" font-size="15" textLength="197.20" lengthAdjust="spacingAndGlyphs" stroke="#000" stroke-width="0.6">водоснабжения и канализации”.</text>
<text x="904.90" y="693.40" font-size="15" textLength="161.20" lengthAdjust="spacingAndGlyphs" stroke="#000" stroke-width="0.6">ПРИ МОНТАЖЕ ОБРАТИТЬ </text>
<text x="1066.10" y="693.40" font-size="15" textLength="118.10" lengthAdjust="spacingAndGlyphs" stroke="#000" stroke-width="0.6">ОСОБОЕ ВНИМАНИЕ:</text>
<text x="904.90" y="709.10" font-size="15" textLength="232.40" lengthAdjust="spacingAndGlyphs" stroke="#000" stroke-width="0.6">Разработку котлована производить </text>
<text x="1137.30" y="709.10" font-size="15" textLength="151.30" lengthAdjust="spacingAndGlyphs" stroke="#000" stroke-width="0.6">при условии соблюдения </text>
<text x="1288.60" y="709.10" font-size="15" textLength="260.10" lengthAdjust="spacingAndGlyphs" stroke="#000" stroke-width="0.6">правил техники безопасности проведения</text>
<text x="876.30" y="725.20" font-size="15" textLength="118.10" lengthAdjust="spacingAndGlyphs" stroke="#000" stroke-width="0.6">земляных работ, с </text>
<text x="994.40" y="725.20" font-size="15" textLength="243.10" lengthAdjust="spacingAndGlyphs" stroke="#000" stroke-width="0.6">соблюдением требований действующей </text>
<text x="1237.50" y="725.20" font-size="15" textLength="285.10" lengthAdjust="spacingAndGlyphs" stroke="#000" stroke-width="0.6">нормативной документации. Монтаж станции</text>
<text x="876.30" y="741.20" font-size="15" textLength="162.80" lengthAdjust="spacingAndGlyphs" stroke="#000" stroke-width="0.6">производить на песчаную </text>
<text x="1039.10" y="741.20" font-size="15" textLength="140.30" lengthAdjust="spacingAndGlyphs" stroke="#000" stroke-width="0.6">подсыпку, станцию не </text>
<text x="1179.40" y="741.20" font-size="15" textLength="180.40" lengthAdjust="spacingAndGlyphs" stroke="#000" stroke-width="0.6">подвергать ударам, обсыпку </text>
<text x="1359.80" y="741.20" font-size="15" textLength="196.20" lengthAdjust="spacingAndGlyphs" stroke="#000" stroke-width="0.6">производить вместе с заливкой</text>
<text x="876.30" y="757.30" font-size="15" textLength="199.60" lengthAdjust="spacingAndGlyphs" stroke="#000" stroke-width="0.6">одновременно для компенсации </text>
<text x="1075.90" y="757.30" font-size="15" textLength="212.90" lengthAdjust="spacingAndGlyphs" stroke="#000" stroke-width="0.6">внутреннего и внешнего давления.</text>
<text x="904.90" y="785.70" font-size="15" textLength="170.20" lengthAdjust="spacingAndGlyphs" stroke="#000" stroke-width="0.6">*При определении отметки </text>
<text x="1075.10" y="785.70" font-size="15" textLength="182.40" lengthAdjust="spacingAndGlyphs" stroke="#000" stroke-width="0.6">уровня земли предусмотреть </text>
<text x="1257.50" y="785.70" font-size="15" textLength="296.40" lengthAdjust="spacingAndGlyphs" stroke="#000" stroke-width="0.6">будущее благоустройство участка, возможные</text>
<text x="876.30" y="802.30" font-size="15" textLength="201.80" lengthAdjust="spacingAndGlyphs" stroke="#000" stroke-width="0.6">ландшафтные работы (которые </text>
<text x="1078.10" y="802.30" font-size="15" textLength="112.80" lengthAdjust="spacingAndGlyphs" stroke="#000" stroke-width="0.6">могут привести к </text>
<text x="1190.90" y="802.30" font-size="15" textLength="213.70" lengthAdjust="spacingAndGlyphs" stroke="#000" stroke-width="0.6">изменению отметки уровня земли).</text>
<text x="904.90" y="818.20" font-size="15" textLength="214.90" lengthAdjust="spacingAndGlyphs" stroke="#000" stroke-width="0.6">**Производитель может изменить </text>
<text x="1119.80" y="818.20" font-size="15" textLength="237.40" lengthAdjust="spacingAndGlyphs" stroke="#000" stroke-width="0.6">габариты продукции без уведомления.</text>
<text x="904.90" y="834.40" font-size="15" textLength="165.00" lengthAdjust="spacingAndGlyphs" stroke="#000" stroke-width="0.6">***При выполнении врезки </text>
<text x="1069.90" y="834.40" font-size="15" textLength="260.30" lengthAdjust="spacingAndGlyphs" stroke="#000" stroke-width="0.6">учесть внутренний конструктив станции.</text>
<text x="904.30" y="868.80" font-size="15" textLength="384.90" lengthAdjust="spacingAndGlyphs" stroke="#000" stroke-width="0.6">Расход песка не менее – 6,6 м³, расход воды не менее – 2,4 м³.</text>
<line x1="904.30" y1="870.80" x2="1289.20" y2="870.80" stroke="#000" stroke-width="1.1" />
<rect x="877.50" y="534.20" width="492.30" height="127.80" fill="#fff" stroke="#000" stroke-width="2.3" />
<line x1="877.50" y1="556.20" x2="1369.80" y2="556.20" stroke="#000" stroke-width="2" />
<line x1="877.50" y1="594.40" x2="1369.80" y2="594.40" stroke="#000" stroke-width="2" />
<line x1="877.50" y1="617.00" x2="1369.80" y2="617.00" stroke="#000" stroke-width="1.5" />
<line x1="877.50" y1="640.00" x2="1369.80" y2="640.00" stroke="#000" stroke-width="1.5" />
<line x1="1066.60" y1="556.20" x2="1066.60" y2="662.00" stroke="#000" stroke-width="2.1" />
<line x1="1217.80" y1="556.20" x2="1217.80" y2="662.00" stroke="#000" stroke-width="2.1" />
<line x1="1142.00" y1="594.40" x2="1142.00" y2="662.00" stroke="#000" stroke-width="1.5" />
<line x1="1293.30" y1="594.40" x2="1293.30" y2="662.00" stroke="#000" stroke-width="1.5" />
<text x="1057.00" y="550.00" font-size="15" textLength="133.80" lengthAdjust="spacingAndGlyphs" stroke="#000" stroke-width="0.6">Пояснение к схеме №1</text>
<text x="1076.00" y="573.80" font-size="15" textLength="129.40" lengthAdjust="spacingAndGlyphs" stroke="#000" stroke-width="0.6">От дна установки до</text>
<text x="1079.40" y="586.80" font-size="15" textLength="124.90" lengthAdjust="spacingAndGlyphs" stroke="#000" stroke-width="0.6">нижнего края трубы</text>
<text x="1220.80" y="573.80" font-size="15" textLength="146.00" lengthAdjust="spacingAndGlyphs" stroke="#000" stroke-width="0.6">От поверхности грунта</text>
<text x="1224.60" y="586.80" font-size="15" textLength="142.20" lengthAdjust="spacingAndGlyphs" stroke="#000" stroke-width="0.6">до нижнего края трубы</text>
<text x="1095.30" y="610.80" font-size="15" textLength="19.00" lengthAdjust="spacingAndGlyphs" stroke="#000" stroke-width="0.6">min</text>
<text x="1167.70" y="610.80" font-size="15" textLength="23.60" lengthAdjust="spacingAndGlyphs" stroke="#000" stroke-width="0.6">max</text>
<text x="1246.50" y="610.80" font-size="15" textLength="19.00" lengthAdjust="spacingAndGlyphs" stroke="#000" stroke-width="0.6">min</text>
<text x="1320.40" y="610.80" font-size="15" textLength="23.60" lengthAdjust="spacingAndGlyphs" stroke="#000" stroke-width="0.6">max</text>
<text x="914.70" y="633.60" font-size="15" textLength="115.30" lengthAdjust="spacingAndGlyphs" stroke="#000" stroke-width="0.6">Вход сточной воды</text>
<text x="902.30" y="656.30" font-size="15" textLength="139.50" lengthAdjust="spacingAndGlyphs" stroke="#000" stroke-width="0.6">Выход очищенной воды</text>
<text x="1091.55" y="633.60" font-size="15" textLength="26.50" lengthAdjust="spacingAndGlyphs" stroke="#000" stroke-width="0.6">1400</text>
<text x="1091.20" y="656.30" font-size="15" textLength="27.20" lengthAdjust="spacingAndGlyphs" stroke="#000" stroke-width="0.6">2200</text>
<text x="1166.90" y="633.60" font-size="15" textLength="25.20" lengthAdjust="spacingAndGlyphs" stroke="#000" stroke-width="0.6">1800</text>
<text x="1166.00" y="656.30" font-size="15" textLength="27.00" lengthAdjust="spacingAndGlyphs" stroke="#000" stroke-width="0.6">2300</text>
<text x="1245.65" y="633.60" font-size="15" textLength="20.70" lengthAdjust="spacingAndGlyphs" stroke="#000" stroke-width="0.6">550</text>
<text x="1249.25" y="656.30" font-size="15" textLength="13.50" lengthAdjust="spacingAndGlyphs" stroke="#000" stroke-width="0.6">50</text>
<text x="1322.05" y="633.60" font-size="15" textLength="20.30" lengthAdjust="spacingAndGlyphs" stroke="#000" stroke-width="0.6">950</text>
<text x="1322.95" y="656.30" font-size="15" textLength="18.50" lengthAdjust="spacingAndGlyphs" stroke="#000" stroke-width="0.6">150</text>
<line x1="875.30" y1="882.00" x2="1575.50" y2="882.00" stroke="#000" stroke-width="2.7" />
<line x1="875.30" y1="882.00" x2="875.30" y2="1090.00" stroke="#000" stroke-width="2.8" />
<line x1="950.90" y1="882.00" x2="950.90" y2="1090.00" stroke="#000" stroke-width="2.7" />
<line x1="1026.60" y1="882.00" x2="1026.60" y2="1090.00" stroke="#000" stroke-width="2.7" />
<line x1="1083.40" y1="882.00" x2="1083.40" y2="1090.00" stroke="#000" stroke-width="2.7" />
<line x1="1121.50" y1="882.00" x2="1121.50" y2="1090.00" stroke="#000" stroke-width="2.7" />
<line x1="912.80" y1="882.00" x2="912.80" y2="976.30" stroke="#000" stroke-width="2.7" />
<line x1="988.75" y1="882.00" x2="988.75" y2="976.30" stroke="#000" stroke-width="2.7" />
<line x1="875.30" y1="900.60" x2="1121.50" y2="900.60" stroke="#000" stroke-width="1.6" />
<line x1="875.30" y1="920.00" x2="1121.50" y2="920.00" stroke="#000" stroke-width="1.6" />
<line x1="875.30" y1="939.00" x2="1121.50" y2="939.00" stroke="#000" stroke-width="1.6" />
<line x1="875.30" y1="957.20" x2="1121.50" y2="957.20" stroke="#000" stroke-width="2.7" />
<line x1="875.30" y1="976.30" x2="1121.50" y2="976.30" stroke="#000" stroke-width="2.7" />
<line x1="875.30" y1="995.40" x2="1121.50" y2="995.40" stroke="#000" stroke-width="1.6" />
<line x1="875.30" y1="1014.40" x2="1121.50" y2="1014.40" stroke="#000" stroke-width="1.6" />
<line x1="875.30" y1="1033.50" x2="1121.50" y2="1033.50" stroke="#000" stroke-width="1.6" />
<line x1="875.30" y1="1052.50" x2="1121.50" y2="1052.50" stroke="#000" stroke-width="1.6" />
<line x1="875.30" y1="1071.40" x2="1121.50" y2="1071.40" stroke="#000" stroke-width="1.6" />
<line x1="1121.50" y1="920.00" x2="1575.50" y2="920.00" stroke="#000" stroke-width="2.7" />
<line x1="1121.50" y1="976.60" x2="1575.50" y2="976.60" stroke="#000" stroke-width="2.7" />
<line x1="1121.50" y1="1033.30" x2="1575.50" y2="1033.30" stroke="#000" stroke-width="2.7" />
<line x1="1386.60" y1="976.60" x2="1386.60" y2="1090.00" stroke="#000" stroke-width="2.7" />
<line x1="1386.60" y1="995.50" x2="1575.50" y2="995.50" stroke="#000" stroke-width="2.7" />
<line x1="1443.40" y1="976.60" x2="1443.40" y2="1033.30" stroke="#000" stroke-width="2.7" />
<line x1="1500.00" y1="976.60" x2="1500.00" y2="1033.30" stroke="#000" stroke-width="2.7" />
<text x="881.30" y="972.60" font-size="14.5" textLength="24.90" lengthAdjust="spacingAndGlyphs" font-style="italic" stroke="#000" stroke-width="0.4">Изм.</text>
<text x="916.90" y="972.60" font-size="14.5" textLength="30.00" lengthAdjust="spacingAndGlyphs" font-style="italic" stroke="#000" stroke-width="0.4">Кол. уч.</text>
<text x="955.60" y="972.60" font-size="14.5" textLength="28.80" lengthAdjust="spacingAndGlyphs" font-style="italic" stroke="#000" stroke-width="0.4">Лист</text>
<text x="992.50" y="972.60" font-size="14.5" textLength="30.60" lengthAdjust="spacingAndGlyphs" font-style="italic" stroke="#000" stroke-width="0.4">№ док.</text>
<text x="1039.40" y="972.60" font-size="14.5" textLength="32.10" lengthAdjust="spacingAndGlyphs" font-style="italic" stroke="#000" stroke-width="0.4">Подп.</text>
<text x="1087.50" y="972.60" font-size="14.5" textLength="30.00" lengthAdjust="spacingAndGlyphs" font-style="italic" stroke="#000" stroke-width="0.4">Дата</text>
<text x="1392.30" y="991.70" font-size="15" textLength="45.50" lengthAdjust="spacingAndGlyphs" font-style="italic" stroke="#000" stroke-width="0.4">Стадия</text>
<text x="1457.50" y="991.70" font-size="15" textLength="29.50" lengthAdjust="spacingAndGlyphs" font-style="italic" stroke="#000" stroke-width="0.4">Лист</text>
<text x="1516.60" y="991.70" font-size="15" textLength="43.70" lengthAdjust="spacingAndGlyphs" font-style="italic" stroke="#000" stroke-width="0.4">Листов</text>
<text x="1538.70" y="1020.00" font-size="15" text-anchor="middle" stroke="#000" stroke-width="0.25">1</text>
<text transform="translate(1170.00 998.50) scale(0.872 1)" x="0" y="0" font-size="21" textLength="193.46" lengthAdjust="spacing" stroke="#fff" stroke-width="0.2" style="paint-order:fill stroke">Установка очистки</text>
<text transform="translate(1201.40 1014.40) scale(0.821 1)" x="0" y="0" font-size="21" textLength="128.38" lengthAdjust="spacing" stroke="#fff" stroke-width="0.2" style="paint-order:fill stroke">сточных вод</text>
<text transform="translate(1199.80 1029.80) scale(0.827 1)" x="0" y="0" font-size="21" textLength="133.25" lengthAdjust="spacing" stroke="#fff" stroke-width="0.2" style="paint-order:fill stroke">V=1,7 м3/сут</text>
<text x="1183.00" y="1069.00" font-size="15" textLength="147.80" lengthAdjust="spacingAndGlyphs" stroke="#000" stroke-width="0.4">ТОПАС-С/TOPAS-S 9 Пр</text>
<text transform="translate(1391.00 1069.60) scale(0.683 1)" x="0" y="0" font-size="21" textLength="266.18" lengthAdjust="spacing" stroke="#fff" stroke-width="0.2" style="paint-order:fill stroke">ТОПОЛ-ЭКО/TOPOL-ECO</text>
<text x="1429.00" y="1105.40" font-size="15.5" textLength="48.20" lengthAdjust="spacingAndGlyphs" stroke="#000" stroke-width="0.6">Формат</text>
<text x="1521.20" y="1105.40" font-size="15.5" textLength="16.00" lengthAdjust="spacingAndGlyphs" stroke="#000" stroke-width="0.6">А3</text>
</svg>
</body>
</html>
